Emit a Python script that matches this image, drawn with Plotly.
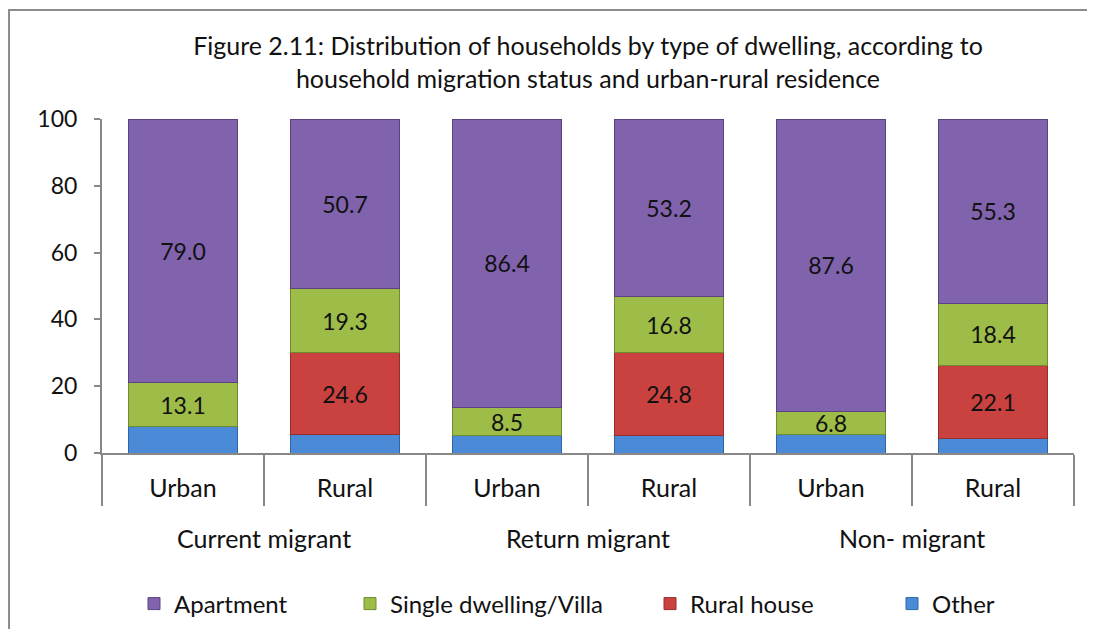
import plotly.graph_objects as go

groups = ["Current migrant", "Return migrant", "Non- migrant"]
residence = ["Urban", "Rural", "Urban", "Rural", "Urban", "Rural"]

apartment = [79.0, 50.7, 86.4, 53.2, 87.6, 55.3]
single_villa = [13.1, 19.3, 8.5, 16.8, 6.8, 18.4]
rural_house = [0.0, 24.6, 0.0, 24.8, 0.0, 22.1]
other = [7.9, 5.4, 5.1, 5.2, 5.6, 4.2]

# name, values, fill, edge, show labels, legend id, legend text start (screen px)
series = [
    ("Other", other, "#4A8AD6", "#2F64A8", False, "legend4", 932),
    ("Rural house", rural_house, "#C9423F", "#952E2C", True, "legend3", 690),
    ("Single dwelling/Villa", single_villa, "#9DBD48", "#6F8C2C", True, "legend2", 390),
    ("Apartment", apartment, "#8062AD", "#5B4283", True, "legend", 174),
]

FONT = "Lato, 'Open Sans', sans-serif"
TXT = "#111111"
xpos = list(range(len(residence)))

# the html page body has an 8px margin: work in screen pixels, convert
OFF = 8
W, H = 1095 - OFF, 629 - OFF
plot_l, plot_r, plot_t, plot_b = 102 - OFF, 1074 - OFF, 119 - OFF, 453 - OFF
pw = plot_r - plot_l
ph = plot_b - plot_t


def px_x(p):
    return (p - OFF - plot_l) / pw


def px_y(p):
    return (plot_b - (p - OFF)) / ph


fig = go.Figure()
legends = {}
for name, vals, color, edge, show_text, leg, text_x in series:
    labels = [f"{v:.1f}" if (show_text and v > 0) else "" for v in vals]
    fig.add_trace(go.Bar(
        name=name,
        x=xpos,
        y=vals,
        width=0.67,
        marker=dict(color=color, line=dict(color=edge, width=1)),
        text=labels,
        texttemplate="%{text}",
        textposition="inside",
        insidetextanchor="middle",
        textangle=0,
        textfont=dict(family=FONT, size=23, color=TXT),
        hoverinfo="name+y",
        legend=leg,
    ))
    legends[leg] = dict(
        orientation="h",
        x=px_x(text_x - 40),
        xanchor="left",
        y=px_y(604),
        yanchor="middle",
        font=dict(family=FONT, size=24, color=TXT),
        bgcolor="rgba(0,0,0,0)",
    )

fig.update_layout(
    width=W,
    height=H,
    barmode="stack",
    bargap=0.33,
    paper_bgcolor="white",
    plot_bgcolor="white",
    margin=dict(l=plot_l, r=W - plot_r, t=plot_t, b=H - plot_b, pad=0,
                autoexpand=False),
    font=dict(family=FONT, size=22, color=TXT),
    uniformtext=dict(minsize=23, mode="show"),
    title=dict(
        text="Figure 2.11: Distribution of households by type of dwelling, according to<br>household migration status and urban-rural residence",
        x=px_x((102 + 1074) / 2),
        xref="paper",
        xanchor="center",
        y=1 - (33 + 14) / H,
        yanchor="top",
        font=dict(family=FONT, size=25, color=TXT),
    ),
    xaxis=dict(
        range=[-0.5, len(residence) - 0.5],
        tickmode="array",
        tickvals=xpos,
        ticktext=residence,
        ticks="",
        ticklabelstandoff=12,
        showline=True,
        linecolor="#888888",
        linewidth=2,
        showgrid=False,
        zeroline=False,
        tickfont=dict(family=FONT, size=25, color=TXT),
        minor=dict(
            tickmode="array",
            tickvals=[i - 0.5 for i in range(len(residence) + 1)],
            ticks="outside",
            ticklen=51,
            tickwidth=2,
            tickcolor="#888888",
            showgrid=False,
        ),
    ),
    yaxis=dict(
        range=[0, 100],
        tickmode="array",
        tickvals=[0, 20, 40, 60, 80, 100],
        ticks="outside",
        ticklen=6,
        tickwidth=2,
        tickcolor="#888888",
        ticklabelstandoff=12,
        showline=True,
        linecolor="#888888",
        linewidth=2,
        showgrid=False,
        zeroline=False,
        tickfont=dict(family=FONT, size=23, color=TXT),
    ),
    showlegend=True,
    **legends,
)

for gi, g in enumerate(groups):
    fig.add_annotation(
        text=g,
        x=2 * gi + 0.5,
        xref="x",
        y=px_y(538),
        yref="paper",
        showarrow=False,
        xanchor="center",
        yanchor="middle",
        font=dict(family=FONT, size=25, color=TXT),
    )

# outer chart-area border (Excel style)
fig.add_shape(
    type="rect",
    xref="paper", yref="paper",
    x0=px_x(9), x1=px_x(1095 + 20),
    y0=px_y(629 + 20), y1=px_y(10),
    line=dict(color="#8C8C8C", width=2),
    fillcolor="rgba(0,0,0,0)",
    layer="below",
)

fig.write_html("out.html")
